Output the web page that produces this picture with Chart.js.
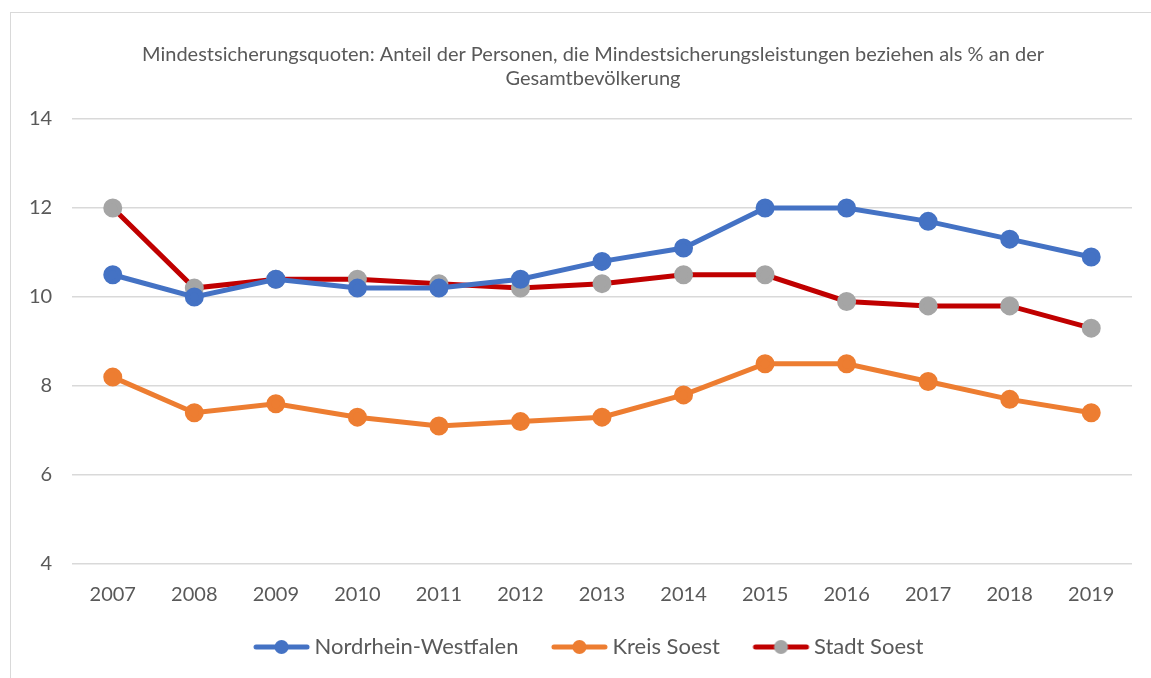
<!DOCTYPE html>
<html>
<head>
<meta charset="utf-8">
<script src="https://cdn.jsdelivr.net/npm/chart.js@4/dist/chart.umd.min.js"></script>
<style>
  body { margin: 0; background: #fff; }
  #wrap { position: relative; width: 1151px; height: 678px; }
  #frame { position: absolute; left: 10px; top: 12px; width: 1150px; height: 680px; border: 1px solid #d9d9d9; box-sizing: border-box; }
  canvas { position: absolute; left: 0; top: 0; }
</style>
</head>
<body>
<div id="wrap">
  <div id="frame"></div>
  <canvas id="myChart" width="1151" height="678"></canvas>
</div>
<script>
const years = ['2007', '2008', '2009', '2010', '2011', '2012', '2013', '2014', '2015', '2016', '2017', '2018', '2019'];
const nrw = [10.5, 10.0, 10.4, 10.2, 10.2, 10.4, 10.8, 11.1, 12.0, 12.0, 11.7, 11.3, 10.9];
const kreisSoest = [8.2, 7.4, 7.6, 7.3, 7.1, 7.2, 7.3, 7.8, 8.5, 8.5, 8.1, 7.7, 7.4];
const stadtSoest = [12.0, 10.2, 10.4, 10.4, 10.3, 10.2, 10.3, 10.5, 10.5, 9.9, 9.8, 9.8, 9.3];
const yMin = 4, yMax = 14, yStep = 2;
const titleLines = ['Mindestsicherungsquoten: Anteil der Personen, die Mindestsicherungsleistungen beziehen als % an der', 'Gesamtbevölkerung'];

const textColor = '#595959';
const fontFamily = 'Lato, "Open Sans", sans-serif';

// Legendensymbol wie in Excel: Linie mit Punkt in der Mitte
// (links etwas Luft, damit die Abstaende zwischen den Eintraegen passen)
function legendIcon(lineColor, dotColor) {
  const c = document.createElement('canvas');
  c.width = 90; c.height = 16;
  const g = c.getContext('2d');
  g.strokeStyle = lineColor;
  g.lineWidth = 5;
  g.lineCap = 'round';
  g.beginPath(); g.moveTo(34, 8); g.lineTo(85, 8); g.stroke();
  g.fillStyle = dotColor;
  g.beginPath(); g.arc(59.5, 8, 7, 0, Math.PI * 2); g.fill();
  return c;
}

function serie(label, data, line, dot) {
  return {
    label: label,
    data: data,
    borderColor: line,
    backgroundColor: dot,
    pointBackgroundColor: dot,
    pointBorderColor: dot,
    pointRadius: 7,
    pointHoverRadius: 7,
    borderWidth: 5,
    pointStyle: 'circle',
    icon: legendIcon(line, dot),
    tension: 0
  };
}

// Legende etwas nach links, die Luft vor dem ersten Symbol ausgleichen
const legendShift = {
  id: 'legendShift',
  afterLayout: function(chart) {
    chart.legend.left -= 16;
    chart.legend.right -= 16;
  }
};

const ctx = document.getElementById('myChart').getContext('2d');
const myChart = new Chart(ctx, {
  type: 'line',
  data: {
    labels: years,
    datasets: [
      serie('Nordrhein-Westfalen', nrw, '#4472C4', '#4472C4'),
      serie('Kreis Soest', kreisSoest, '#ED7D31', '#ED7D31'),
      serie('Stadt Soest', stadtSoest, '#C00000', '#A5A5A5')
    ]
  },
  options: {
    responsive: false,
    animation: false,
    layout: { padding: { left: 54, right: 19, top: 0, bottom: 10 } },
    plugins: {
      title: {
        display: true,
        text: titleLines,
        color: textColor,
        font: { family: fontFamily, size: 20, weight: 'normal', lineHeight: '24px' },
        padding: { top: 43, bottom: 28 }
      },
      legend: {
        position: 'bottom',
        labels: {
          usePointStyle: true,
          pointStyleWidth: 73,
          color: textColor,
          font: { family: fontFamily, size: 22 },
          padding: 10,
          generateLabels: function(chart) {
            const items = Chart.defaults.plugins.legend.labels.generateLabels(chart);
            items.forEach(function(it) {
              it.pointStyle = chart.data.datasets[it.datasetIndex].icon;
            });
            return items;
          }
        }
      },
      tooltip: { enabled: false }
    },
    scales: {
      x: {
        offset: true,
        grid: { display: false, drawTicks: false },
        border: { display: false },
        ticks: { color: textColor, font: { family: fontFamily, size: 20 }, padding: 19 }
      },
      y: {
        min: yMin,
        max: yMax,
        afterFit: function(axis) { axis.width = 18; },
        grid: { color: '#d9d9d9', lineWidth: 1.5, drawTicks: false },
        border: { display: false },
        ticks: {
          stepSize: yStep, color: textColor, font: { family: fontFamily, size: 20 },
          mirror: true, crossAlign: 'far', padding: -43
        }
      }
    }
  },
  plugins: [legendShift]
});
</script>
</body>
</html>
